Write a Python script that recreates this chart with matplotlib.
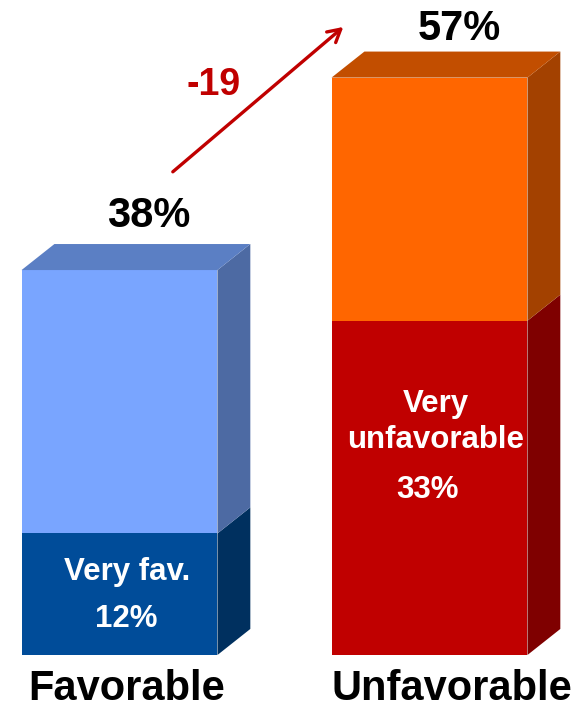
import matplotlib
matplotlib.use('Agg', force=True)

import matplotlib.pyplot as plt
from matplotlib.patches import Polygon

plt.rcParams['font.family'] = ['Liberation Sans', 'DejaVu Sans']

# ---------------- data ----------------
categories = ['Favorable', 'Unfavorable']
totals = [38, 57]                      # overall share
strong = [12, 33]                      # "very" share (bottom segment)
change_label = '-19'

# ---------------- colours ----------------
front_lo = ['#004C99', '#C00000']
front_hi = ['#79A5FF', '#FF6600']
side_lo = ['#00305F', '#7F0000']
side_hi = ['#4D6AA3', '#A34100']
top_hi = ['#5B7FC4', '#C24E00']

# ---------------- figure ----------------
fig = plt.figure(figsize=(5.81, 7.10), dpi=100)
ax = fig.add_axes([0, 0, 1, 1])
ax.set_xlim(-0.3855, 1.4887)
ax.set_ylim(-5.43, 64.66)
ax.axis('off')

x = [0, 1]
w = 0.632
dx, dy = 0.106, 2.57   # fake 3D depth

for i in range(2):
    lo, tot = strong[i], totals[i]
    ax.bar(x[i], lo, width=w, color=front_lo[i], linewidth=0)
    ax.bar(x[i], tot - lo, bottom=lo, width=w, color=front_hi[i], linewidth=0)
    x0, x1 = x[i] - w / 2, x[i] + w / 2
    # side faces
    for b, t, c in [(0, lo, side_lo[i]), (lo, tot, side_hi[i])]:
        ax.add_patch(Polygon([(x1, b), (x1 + dx, b + dy), (x1 + dx, t + dy), (x1, t)],
                             closed=True, facecolor=c, edgecolor='none'))
    # top face
    ax.add_patch(Polygon([(x0, tot), (x0 + dx, tot + dy), (x1 + dx, tot + dy), (x1, tot)],
                         closed=True, facecolor=top_hi[i], edgecolor='none'))

# total labels
ax.text(x[0] + 0.094, totals[0] + 4.25, f'{totals[0]}%', ha='center', va='baseline',
        fontsize=30, fontweight='bold', color='black')
ax.text(x[1] + 0.095, totals[1] + 3.7, f'{totals[1]}%', ha='center', va='baseline',
        fontsize=30, fontweight='bold', color='black')

# inner labels
ax.text(x[0] + 0.023, strong[0] - 4.6, 'Very fav.', ha='center', va='baseline',
        fontsize=22.5, fontweight='bold', color='white')
ax.text(x[0] + 0.022, strong[0] - 9.24, '12%', ha='center', va='baseline',
        fontsize=22.5, fontweight='bold', color='white')
ax.text(x[1] + 0.02, strong[1] - 9.0, 'Very', ha='center', va='baseline',
        fontsize=22.5, fontweight='bold', color='white')
ax.text(x[1] + 0.02, strong[1] - 12.57, 'unfavorable', ha='center', va='baseline',
        fontsize=22.5, fontweight='bold', color='white')
ax.text(x[1] - 0.007, strong[1] - 17.5, '33%', ha='center', va='baseline',
        fontsize=22.5, fontweight='bold', color='white')

# category labels
cat_dx = [0.024, 0.073]
for i in range(2):
    ax.text(x[i] + cat_dx[i], -4.4, categories[i], ha='center', va='baseline',
            fontsize=30, fontweight='bold', color='black')

# change arrow
ax.annotate('', xy=(0.722, 62.0), xytext=(0.172, 47.7),
            arrowprops=dict(arrowstyle='->,head_length=0.9,head_width=0.5',
                            color='#C00000', lw=2.4, shrinkA=0, shrinkB=0))
ax.text(0.302, 55.3, change_label, ha='center', va='baseline',
        fontsize=27, fontweight='bold', color='#C00000')

fig.savefig('out.png', dpi=100)
